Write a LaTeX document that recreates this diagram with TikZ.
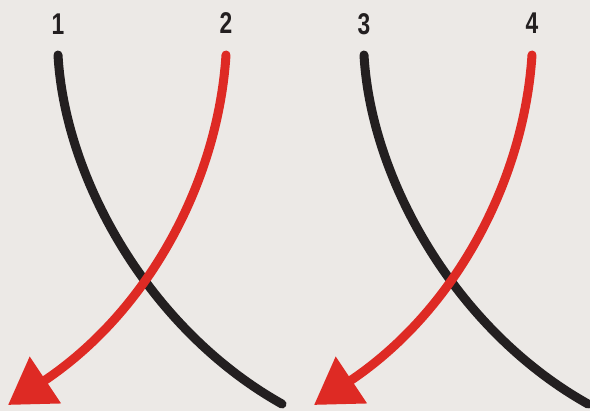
\documentclass[tikz,border=0pt]{standalone}
\usepackage{fontspec}
\usetikzlibrary{arrows.meta}
\newfontfamily\numfont[FakeStretch=0.76]{Liberation Sans}
\definecolor{paper}{RGB}{236,233,230}
\definecolor{cordred}{RGB}{222,42,36}
\definecolor{cordblack}{RGB}{35,31,32}
\begin{document}
\begin{tikzpicture}[x=1pt,y=-1pt,line join=round,line cap=round,
	cord/.style={line width=9pt},
	num/.style={font=\numfont\bfseries\fontsize{30}{32}\selectfont,text=cordblack,inner sep=0pt}]
	\fill[paper] (0,0) rectangle (590,411);
	\useasboundingbox (0,0) rectangle (590,411);
	\foreach \dx/\a/\b in {0/1/2,306/3/4}{
		\begin{scope}[xshift=\dx]
			\node[num] (n\a) at (58,24) {\a};
			\node[num] (n\b) at (226,23) {\b};
			\coordinate (s\a) at (58,55);
			\coordinate (e\a) at (282,404);
			\coordinate (s\b) at (226,55);
			\coordinate (e\b) at (8,405);
			\draw[cord,cordblack] (s\a) .. controls (65,180) and (150,330) .. (e\a);
			\draw[cord,cordred,-{Triangle[length=45pt,width=54pt]}] (s\b) .. controls (218,180) and (150,310) .. (e\b);
		\end{scope}
	}
\end{tikzpicture}
\end{document}
